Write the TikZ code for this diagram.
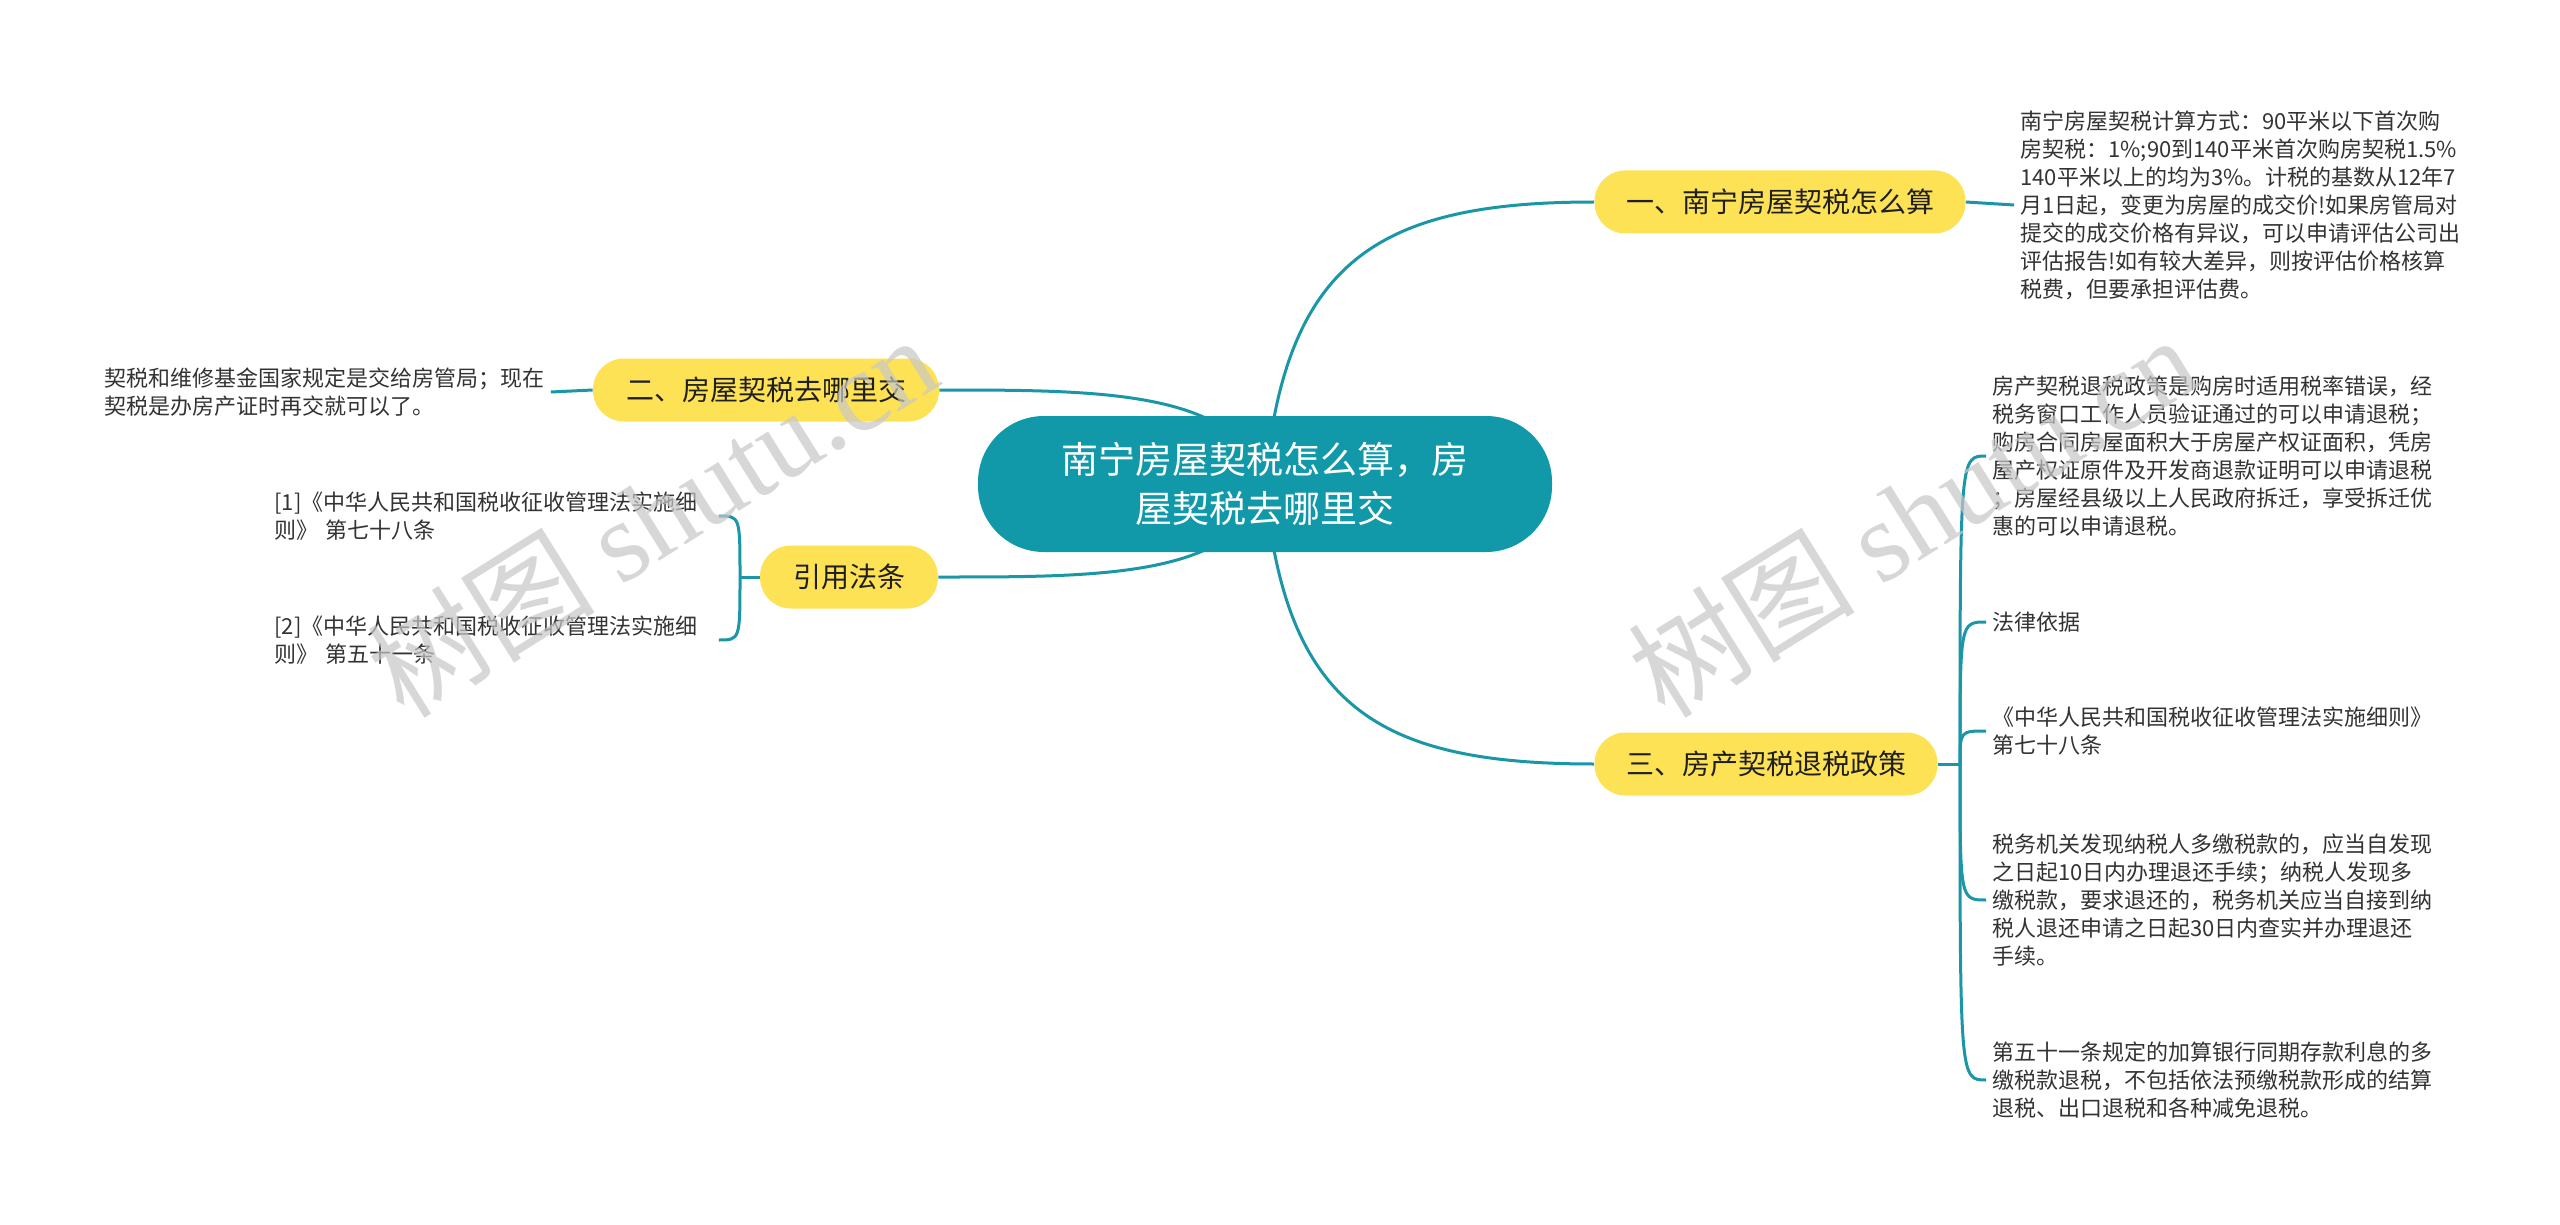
\documentclass[tikz,border=0pt]{standalone}
\usepackage{fontspec}
\setmainfont{Noto Sans CJK SC}
\newfontfamily\wmfont{Liberation Serif}
\usetikzlibrary{calc,backgrounds}
\definecolor{teal1}{HTML}{1199AA}
\definecolor{line1}{HTML}{1A97A6}
\definecolor{yel}{HTML}{FEE255}
\definecolor{txt}{HTML}{333333}
\begin{document}
\begin{tikzpicture}[x=0.5pt,y=-0.5pt,
  conn/.style={draw=line1, line width=1.5pt},
  central/.style={fill=teal1, text=white, rounded corners=33pt, minimum width=287pt, minimum height=68pt, align=center, font=\fontsize{18.5}{24.5}\selectfont, inner sep=0pt},
  branch/.style={fill=yel, text=black!88, rounded corners=15.5pt, minimum height=31.5pt, font=\fontsize{14}{17}\selectfont, inner sep=0pt},
  leaf/.style={text=txt, align=left, font=\fontsize{11}{14}\selectfont, inner xsep=3pt, inner ysep=2pt},
  wm/.style={rotate=32, text=black!22, opacity=0.7, font=\fontsize{57}{57}\selectfont}
]
\useasboundingbox (0,0) rectangle (2560,1225);
\begin{scope}[on background layer]
\fill[white] (0,0) rectangle (2560,1225);
\end{scope}

% main nodes
\node[central] (c) at (1265,484) {南宁房屋契税怎么算，房\\屋契税去哪里交};
\node[branch, minimum width=185.5pt] (b1) at (1780,202) {一、南宁房屋契税怎么算};
\node[branch, minimum width=173pt] (b2) at (766,390) {二、房屋契税去哪里交};
\node[branch, minimum width=171.5pt] (b3) at (1766,764) {三、房产契税退税政策};
\node[branch, minimum width=89pt] (b4) at (849,577) {引用法条};

% leaves
\node[leaf, anchor=west] (l1) at (2014,205) {南宁房屋契税计算方式：90平米以下首次购\\房契税：1\%;90到140平米首次购房契税1.5\%\\140平米以上的均为3\%。计税的基数从12年7\\月1日起，变更为房屋的成交价!如果房管局对\\提交的成交价格有异议，可以申请评估公司出\\评估报告!如有较大差异，则按评估价格核算\\税费，但要承担评估费。};
\node[leaf, anchor=west] (l2) at (98,392) {契税和维修基金国家规定是交给房管局；现在\\契税是办房产证时再交就可以了。};
\node[leaf, anchor=west] (l3a) at (1986,456) {房产契税退税政策是购房时适用税率错误，经\\税务窗口工作人员验证通过的可以申请退税；\\购房合同房屋面积大于房屋产权证面积，凭房\\屋产权证原件及开发商退款证明可以申请退税\\；房屋经县级以上人民政府拆迁，享受拆迁优\\惠的可以申请退税。};
\node[leaf, anchor=west] (l3b) at (1986,622) {法律依据};
\node[leaf, anchor=west] (l3c) at (1986,731) {《中华人民共和国税收征收管理法实施细则》\\第七十八条};
\node[leaf, anchor=west] (l3d) at (1986,900) {税务机关发现纳税人多缴税款的，应当自发现\\之日起10日内办理退还手续；纳税人发现多\\缴税款，要求退还的，税务机关应当自接到纳\\税人退还申请之日起30日内查实并办理退还\\手续。};
\node[leaf, anchor=west] (l3e) at (1986,1080) {第五十一条规定的加算银行同期存款利息的多\\缴税款退税，不包括依法预缴税款形成的结算\\退税、出口退税和各种减免退税。};
\node[leaf, anchor=west, text width=219pt] (l4a) at (268,516) {[1]《中华人民共和国税收征收管理法实施细\\则》 第七十八条};
\node[leaf, anchor=west, text width=219pt] (l4b) at (268,640) {[2]《中华人民共和国税收征收管理法实施细\\则》 第五十一条};

\coordinate (h3) at (1960,764);
\coordinate (h4) at (740,577);

% connectors
\begin{scope}[on background layer]
\draw[conn] (c.center) .. controls +(20,-224) and +(-215,0) .. (b1.west);
\draw[conn] (c.center) .. controls +(20,224) and +(-215,0) .. (b3.west);
\draw[conn] (c.center) .. controls +(-25,-94) and +(161,0) .. (b2.east);
\draw[conn] (c.center) .. controls +(-25,94) and +(161,0) .. (b4.east);
\end{scope}
\draw[conn] (b1.east) -- (l1.west);
\draw[conn] (b2.west) -- (l2.east);
\draw[conn] (b3.east) -- (h3);
\foreach \n in {l3a,l3b,l3c,l3d,l3e}
  \draw[conn] (h3) .. controls (h3 |- \n.west) .. (\n.west);
\draw[conn] (b4.west) -- (h4);
\foreach \n in {l4a,l4b}
  \draw[conn] (h4) .. controls (h4 |- \n.east) .. (\n.east);

% watermarks
\node[wm] (wm1) at (652,515) {树图 {\wmfont shutu.cn}};
\node[wm] (wm2) at (1912,515) {树图 {\wmfont shutu.cn}};
\end{tikzpicture}
\end{document}
